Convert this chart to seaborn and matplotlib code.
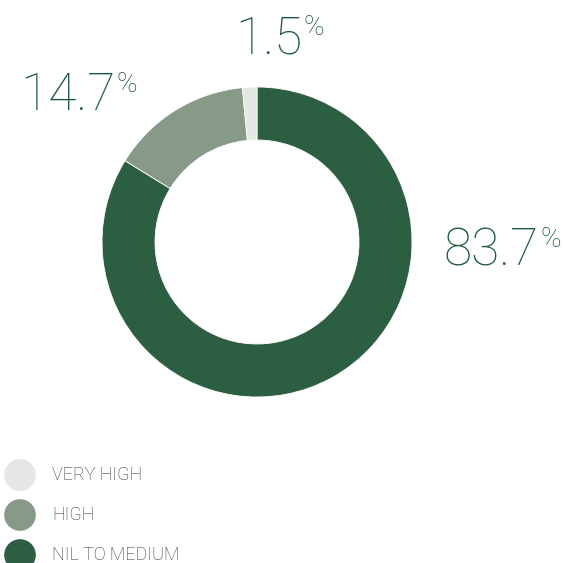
import matplotlib
matplotlib.use("Agg")
import matplotlib.pyplot as plt
import seaborn as sns
import pandas as pd

# Risk share data (drawn clockwise from 12 o'clock)
categories = ["NIL TO MEDIUM", "HIGH", "VERY HIGH"]
shares = [83.7, 14.7, 1.5]
colors = ["#2c5e41", "#879a88", "#e4e7e4"]
legend_order = ["VERY HIGH", "HIGH", "NIL TO MEDIUM"]

sns.set_theme(style="white")
plt.rcParams["font.family"] = ["Roboto", "DejaVu Sans"]

W, H = 564, 563
fig = plt.figure(figsize=(W / 100, H / 100), dpi=100)
ax = fig.add_axes([0, 0, 1, 1])

cx, cy, r_out, r_in = 257, H - 242, 155, 102
wedges, _ = ax.pie(
    shares, colors=colors, startangle=90, counterclock=False,
    center=(cx, cy), radius=r_out, frame=True,
    wedgeprops=dict(width=r_out - r_in, edgecolor="white", linewidth=0.6),
)
ax.set_xlim(0, W)
ax.set_ylim(0, H)
ax.set_aspect("equal")
ax.axis("off")

text_color = "#1e5b3c"
label_pos = {"NIL TO MEDIUM": (444, 265), "HIGH": (20, 110), "VERY HIGH": (235, 53)}

fig.canvas.draw()
renderer = fig.canvas.get_renderer()
for cat, val in zip(categories, shares):
    x, ypix = label_pos[cat]
    t = ax.text(x, H - ypix, f"{val:.1f}", fontsize=37, fontweight="light",
                color=text_color, ha="left", va="baseline")
    bb = t.get_window_extent(renderer=renderer)
    x_end = ax.transData.inverted().transform((bb.x1, bb.y0))[0]
    ax.text(x_end + 1, H - ypix + 18, "%", fontsize=20, fontweight="light",
            color=text_color, ha="left", va="baseline")

# Legend markers drawn with seaborn
leg = pd.DataFrame({
    "x": [20, 20, 20],
    "y": [H - 475, H - 515, H - 555],
    "label": legend_order,
})
palette = dict(zip(categories, colors))
sns.scatterplot(data=leg, x="x", y="y", hue="label", palette=palette,
                s=520, linewidth=0, ax=ax, legend=False, clip_on=False)
for _, row in leg.iterrows():
    ax.text(52, row["y"], row["label"], fontsize=13, fontweight="light",
            color="#333333", ha="left", va="center")

ax.set_xlim(0, W)
ax.set_ylim(0, H)
ax.axis("off")
fig.savefig("out.png", dpi=100)
